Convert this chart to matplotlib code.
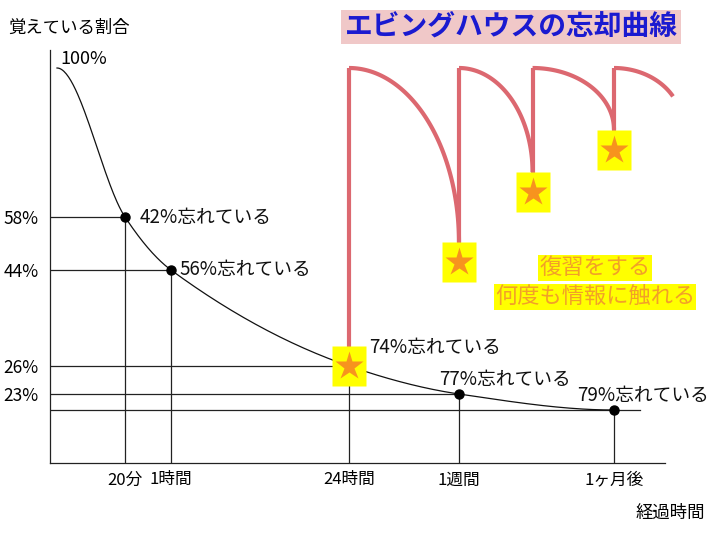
import numpy as np
import matplotlib
matplotlib.use("Agg")
import matplotlib.pyplot as plt
from matplotlib.path import Path

plt.rcParams['font.family'] = ['Noto Sans CJK JP', 'DejaVu Sans']

# data
time_labels = ["20分", "1時間", "24時間", "1週間", "1ヶ月後"]
hours = [1 / 3, 1, 24, 168, 720]
retained = [58, 44, 26, 23, 21]
forgot_labels = ["42%忘れている", "56%忘れている", "74%忘れている", "77%忘れている", "79%忘れている"]
ytick_vals = [58, 44, 26, 23]

review_hours = [24, 168, 430, 720]
review_level = [26, 46, 65, 77]
last_end = (930, 92)

# hand-drawn, non-linear axes: anchors of the illustration (value -> pixel)
x_anchor_h = [0, 1 / 3, 1, 24, 168, 720]
x_anchor_px = [57, 125, 171, 349, 459, 614]
y_anchor_pct = [0, 21, 23, 26, 44, 58, 100]
y_anchor_px = [77, 130, 146, 174, 270, 323, 472]   # 540 - pixel row


def pw(v, xs, ys):
    v = np.asarray(v, dtype=float)
    shape = v.shape
    v = np.atleast_1d(v)
    out = np.interp(v, xs, ys)
    lo = v < xs[0]
    hi = v > xs[-1]
    out[lo] = ys[0] + (v[lo] - xs[0]) * (ys[1] - ys[0]) / (xs[1] - xs[0])
    out[hi] = ys[-1] + (v[hi] - xs[-1]) * (ys[-1] - ys[-2]) / (xs[-1] - xs[-2])
    return out.reshape(shape)


fx = lambda v: pw(v, x_anchor_h, x_anchor_px)
ifx = lambda v: pw(v, x_anchor_px, x_anchor_h)
fy = lambda v: pw(v, y_anchor_pct, y_anchor_px)
ify = lambda v: pw(v, y_anchor_px, y_anchor_pct)

fig = plt.figure(figsize=(7.2, 5.4), dpi=100)
ax = fig.add_axes([50 / 720, 77 / 540, 615 / 720, 413 / 540])
ax.set_xscale('function', functions=(fx, ifx))
ax.set_yscale('function', functions=(fy, ify))
ax.set_xlim(float(ifx(50)), float(ifx(665)))
ax.set_ylim(float(ify(77)), float(ify(490)))
for s in ['top', 'right']:
    ax.spines[s].set_visible(False)
for s in ['left', 'bottom']:
    ax.spines[s].set_color('#222222')
    ax.spines[s].set_linewidth(0.9)

ax.set_xticks(hours)
ax.set_xticklabels(time_labels, fontsize=12)
ax.set_yticks(ytick_vals)
ax.set_yticklabels([f"{v}%" for v in ytick_vals], fontsize=12.5)
ax.tick_params(length=0)
ax.tick_params(axis='x', pad=6)
ax.tick_params(axis='y', pad=8)
ax.minorticks_off()

# forgetting curve (monotone hermite in scaled space)
px = fx([0] + hours)
py = fy([100] + retained)
d = np.diff(py) / np.diff(px)
m = np.zeros_like(px)
for i in range(1, len(px) - 1):
    m[i] = 2 / (1 / d[i - 1] + 1 / d[i]) if d[i - 1] * d[i] > 0 else 0
m[0] = 0
m[-1] = 0
cx, cy = [], []
for i in range(len(px) - 1):
    h = px[i + 1] - px[i]
    t = np.linspace(0, 1, 60)
    h00 = 2 * t**3 - 3 * t**2 + 1
    h10 = t**3 - 2 * t**2 + t
    h01 = -2 * t**3 + 3 * t**2
    h11 = t**3 - t**2
    cx.append(px[i] + t * h)
    cy.append(h00 * py[i] + h10 * h * m[i] + h01 * py[i + 1] + h11 * h * m[i + 1])
cx = np.concatenate(cx)
cy = np.concatenate(cy)
ax.plot(ifx(cx), ify(cy), color='#111111', lw=0.9, zorder=3)

# guide lines
xmin = ax.get_xlim()[0]
x_ext = float(ifx(fx(720) + 26))
for i, (h, r) in enumerate(zip(hours, retained)):
    xe = x_ext if i == len(hours) - 1 else h
    ax.plot([xmin, xe], [r, r], color='#222222', lw=0.9, zorder=2)
    ax.plot([h, h], [ax.get_ylim()[0], r], color='#222222', lw=0.9, zorder=2)

# dots (not at 24h, where the star box sits)
dot_h = [h for h in hours if h != 24]
dot_r = [r for h, r in zip(hours, retained) if h != 24]
ax.plot(dot_h, dot_r, 'o', color='black', ms=6.5, zorder=5, clip_on=False)

# review curves
red = '#dc6870'


def arc(x0, y0, x1, y1, th_end=np.pi / 2, n=80):
    th = np.linspace(0, th_end, n)
    a = (x1 - x0) / np.sin(th_end)
    b = (y0 - y1) / (1 - np.cos(th_end))
    return x0 + a * np.sin(th), y0 - b * (1 - np.cos(th))


box_half = 20
for i, (h, lv) in enumerate(zip(review_hours, review_level)):
    ax.plot([h, h], [lv, 100], color=red, lw=3, zorder=6, solid_capstyle='butt')
    x0, y0 = float(fx(h)), float(fy(100))
    if i + 1 < len(review_hours):
        x1 = float(fx(review_hours[i + 1]))
        y1 = float(fy(review_level[i + 1])) + box_half
        ax_, ay_ = arc(x0, y0, x1, y1)
    else:
        x1, y1 = float(fx(last_end[0])), float(fy(last_end[1]))
        ax_, ay_ = arc(x0, y0, x1, y1, th_end=np.radians(60))
    ax.plot(ifx(ax_), ify(ay_), color=red, lw=3, zorder=6, clip_on=False,
            solid_capstyle='butt', solid_joinstyle='round')

box_marker = Path([(-0.85, -1), (0.85, -1), (0.85, 1), (-0.85, 1), (-0.85, -1)])
ax.plot(review_hours, review_level, marker=box_marker, ls='none', ms=29,
        mfc='#ffff00', mec='none', zorder=7, clip_on=False)
ax.plot(review_hours, review_level, marker='*', ls='none', ms=21,
        mfc='#f7931e', mec='none', zorder=8, clip_on=False)

# annotations
tk = dict(fontsize=13.5, color='#111111', va='center', ha='left', zorder=9)
offs = [(15, 0), (8, 0), (20, 18), (-20, 14), (-37, 15)]
for (h, r, lab, (dx, dy)) in zip(hours, retained, forgot_labels, offs):
    ax.annotate(lab, (h, r), xytext=(dx * 0.72, dy * 0.72), textcoords='offset points',
                annotation_clip=False, **tk)

fig.text(60 / 720, 1 - 59 / 540, "100%", fontsize=13, va='center', ha='left')
fig.text(8 / 720, 1 - 28 / 540, "覚えている割合", fontsize=12.5, va='center', ha='left')
fig.text(670 / 720, 1 - 513 / 540, "経過時間", fontsize=12.5, va='center', ha='center')

fig.text(511 / 720, 1 - 27 / 540, "エビングハウスの忘却曲線", fontsize=20, fontweight='bold',
         color='#1a1ad0', va='center', ha='center',
         bbox=dict(boxstyle='square,pad=0.12', fc='#f0c8c8', ec='none'))

for txt, yy in [("復習をする", 268), ("何度も情報に触れる", 297)]:
    fig.text(595 / 720, 1 - yy / 540, txt, fontsize=16, color='#f2a028',
             va='center', ha='center',
             bbox=dict(boxstyle='square,pad=0.05', fc='#ffff00', ec='none'))

fig.savefig('out.png', dpi=100)
